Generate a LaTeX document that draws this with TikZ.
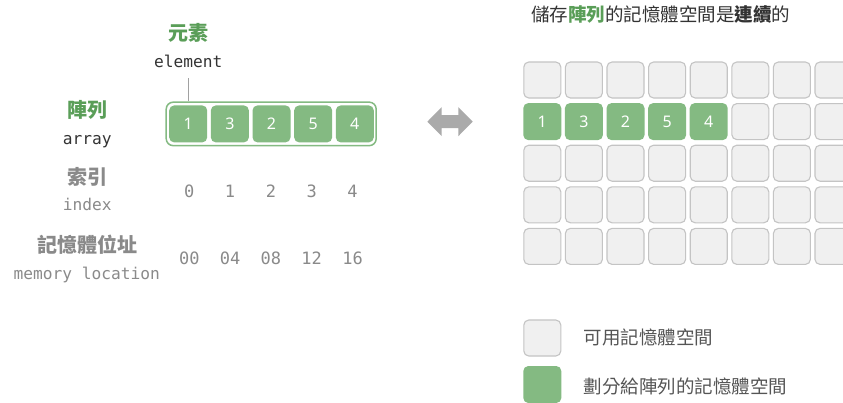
\documentclass[tikz,border=0pt]{standalone}
\usepackage{fontspec}
\newfontfamily\cjk{Noto Sans CJK TC}
\newfontfamily\mono{DejaVu Sans Mono}
\newfontfamily\digs{Noto Sans}
\definecolor{cgreen}{HTML}{84BA82}
\definecolor{tgreen}{HTML}{5A9E58}
\definecolor{cellgray}{HTML}{F0F0F0}
\definecolor{cellbord}{HTML}{C4C4C4}
\definecolor{tgray}{HTML}{8A8A8A}
\definecolor{tdark}{HTML}{333333}
\definecolor{legdark}{HTML}{555555}
\definecolor{arrgray}{HTML}{AAAAAA}
\tikzset{
  gcell/.style={minimum width=38pt,minimum height=37pt,rounded corners=5pt,fill=cgreen,draw=none,text=white,font=\digs\fontsize{16}{16}\selectfont,inner sep=0pt,text height=11.5pt,text depth=0pt},
  ecell/.style={minimum width=37pt,minimum height=36pt,rounded corners=5pt,fill=cellgray,draw=cellbord,line width=1.1pt,inner sep=0pt},
  biglab/.style={font=\cjk\bfseries\fontsize{20}{20}\selectfont,inner sep=0pt},
  monolab/.style={font=\mono\fontsize{16.2}{16.2}\selectfont,inner sep=0pt,text height=12pt,text depth=3.5pt},
  numlab/.style={font=\mono\fontsize{17}{17}\selectfont,text=tgray,inner sep=0pt,text height=12.5pt,text depth=0pt},
  legtext/.style={font=\cjk\fontsize{18.5}{18.5}\selectfont,text=legdark,anchor=west,inner sep=0pt}
}
\begin{document}
\begin{tikzpicture}[x=1pt,y=-1pt]
\clip (0,0) rectangle (843,402);
\fill[white] (0,0) rectangle (843,402);
% left labels
\node[biglab,text=tgreen] (yuansu) at (188.3,33.3) {元素};
\node[monolab,text=tdark] (elem) at (188.3,63.2) {element};
\node[biglab,text=tgreen] (zhenlie) at (87.3,110) {陣列};
\node[monolab,text=tdark] (arraylab) at (87.3,139.8) {array};
\node[biglab,text=tgray] (suoyin) at (87.3,176.7) {索引};
\node[monolab,text=tgray] (indexlab) at (87.3,206.5) {index};
\node[biglab,text=tgray] (jiyi) at (87,245) {記憶體位址};
\node[monolab,text=tgray] (memlab) at (86.7,274.8) {memory location};
% array box
\node[draw=cgreen,line width=1.5pt,fill=white,rounded corners=7pt,minimum width=210pt,minimum height=43.5pt,inner sep=0pt] (arr) at (271.2,123.9) {};
\foreach \v [count=\i from 0] in {1,3,2,5,4}{
  \node[gcell] (a\i) at (188.2+41.65*\i,123.9) {\v};
}
\coordinate (lt) at (188.3,78.3);
\draw[tgray!80,line width=0.9pt] (lt) -- (arr.north -| lt);
% index and addresses
\foreach \v/\w [count=\i from 0] in {0/00,1/04,2/08,3/12,4/16}{
  \node[numlab] (ix\i) at (189.3+40.8*\i,191.7) {\v};
  \node[numlab] (ad\i) at (189.3+40.8*\i,258.3) {\w};
}
% double arrow
\fill[arrgray] (427.3,121.7) -- (441.7,107.2) -- (441.7,115.2) -- (458.3,115.2) -- (458.3,107.2) -- (472.7,121.7) -- (458.3,136.2) -- (458.3,128.2) -- (441.7,128.2) -- (441.7,136.2) -- cycle;
% title
\node[font=\cjk\fontsize{18.5}{18.5}\selectfont,text=tdark,inner sep=0pt] (title) at (660.8,15) {儲存{\bfseries\color{tgreen}陣列}的記憶體空間是{\bfseries 連續}的};
% grid
\foreach \j in {0,...,4}{
  \foreach \i in {0,...,7}{
    \pgfmathtruncatemacro{\isg}{(\j==1 && \i<5) ? 1 : 0}
    \ifnum\isg=0
      \node[ecell] (m\i\j) at (542.3+41.6*\i,80+41.6*\j) {};
    \fi
  }
}
\foreach \v [count=\i from 0] in {1,3,2,5,4}{
  \node[gcell] (g\i) at (542.3+41.6*\i,121.6) {\v};
}
% legend
\node[ecell] (leg1) at (542.3,338) {};
\node[gcell] (leg2) at (542.3,384.5) {};
\node[legtext] (legt1) at (583.3,337.7) {可用記憶體空間};
\node[legtext] (legt2) at (583.3,386) {劃分給陣列的記憶體空間};
\end{tikzpicture}
\end{document}
